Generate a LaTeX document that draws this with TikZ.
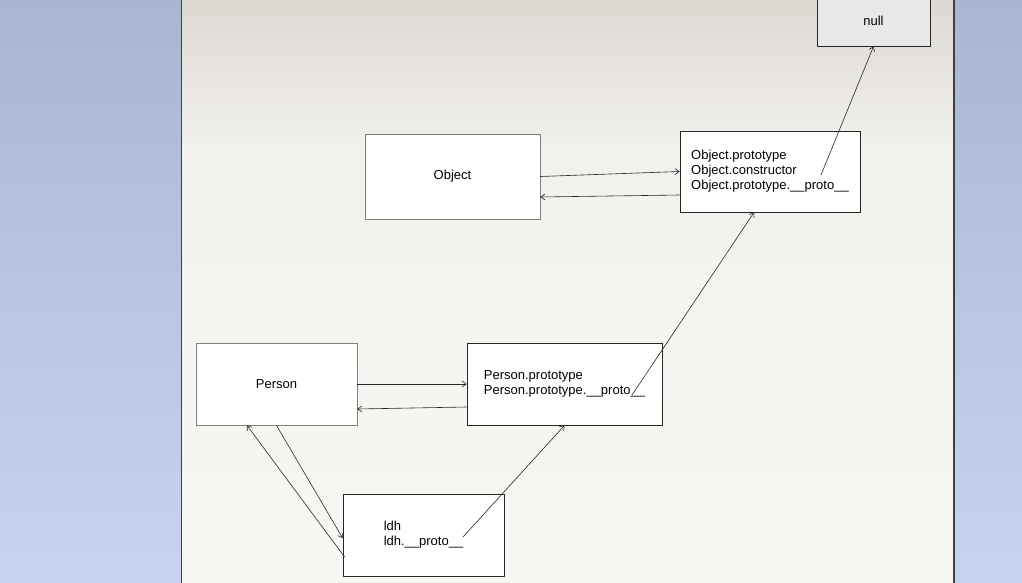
\documentclass[tikz,border=0pt]{standalone}
\usepackage{fontspec}
\setmainfont{Liberation Sans}
\usepackage{tikz}
\usetikzlibrary{arrows.meta}

\tikzset{
  box/.style={draw=black!85, fill=white, line width=0.8pt, inner sep=0pt, align=left,
    font=\fontsize{13}{15}\selectfont},
  greybox/.style={box, draw=black!50},
  link/.style={-{Straight Barb[length=4pt,width=6pt]}, line width=0.6pt, black!85}
}

\begin{document}
\begin{tikzpicture}[x=1pt,y=-1pt]
    \useasboundingbox (0,0) rectangle (1022,583);
    % window background
    \shade [top color={rgb,255:red,169;green,182;blue,210}, bottom color={rgb,255:red,200;green,211;blue,239}] (0,0) rectangle (182,583);
    \shade [top color={rgb,255:red,169;green,182;blue,210}, bottom color={rgb,255:red,200;green,211;blue,239}] (954,0) rectangle (1022,583);
    \shade [top color={rgb,255:red,220;green,217;blue,211}, bottom color={rgb,255:red,243;green,241;blue,236}] (182,0) rectangle (953,150);
    \shade [top color={rgb,255:red,243;green,241;blue,236}, bottom color={rgb,255:red,249;green,247;blue,243}] (182,150) rectangle (953,583);
    \draw [line width=1.2pt, black!75] (181.5,0) -- (181.5,583);
    \draw [line width=2pt, black!75] (954,0) -- (954,583);

    % boxes
    \node [box, fill=black!9, minimum width=113pt, minimum height=50pt] (null) at (873.5,21) {null};
    \node [box, minimum width=180pt, minimum height=81pt] (objproto) at (770,171.5)
        {Object.prototype\\Object.constructor\\Object.prototype.\_\_proto\_\_};
    \node [greybox, minimum width=175pt, minimum height=85pt] (obj) at (452.5,176.5) {Object};
    \node [greybox, minimum width=161pt, minimum height=82pt] (person) at (276.5,384) {Person};
    \node [box, minimum width=195pt, minimum height=82pt] (perproto) at (564.5,384)
        {Person.prototype\\Person.prototype.\_\_proto\_\_};
    \node [box, minimum width=161pt, minimum height=82pt] (ldh) at (423.5,535)
        {ldh\\ldh.\_\_proto\_\_};

    % inner starting points
    \coordinate (objin) at (821,175);
    \coordinate (perin) at (632,395);
    \coordinate (ldhin) at (463,537);

    % links
    \draw [link] (obj.east) -- (objproto.west);
    \draw [link] ([yshift=-23.5pt]objproto.west) -- ([yshift=-20.5pt]obj.east);
    \draw [link] (objin) -- (null.south);
    \draw [link] (perin) -- ([xshift=-16pt]objproto.south);
    \draw [link] (person.east) -- (perproto.west);
    \draw [link] ([yshift=-23pt]perproto.west) -- ([yshift=-25pt]person.east);
    \draw [link] (ldhin) -- (perproto.south);
    \draw [link] (person.south) -- ([yshift=-3pt]ldh.west);
    \draw [link] ([yshift=-22pt,xshift=2pt]ldh.west) -- ([xshift=-29.5pt]person.south);
\end{tikzpicture}
\end{document}
